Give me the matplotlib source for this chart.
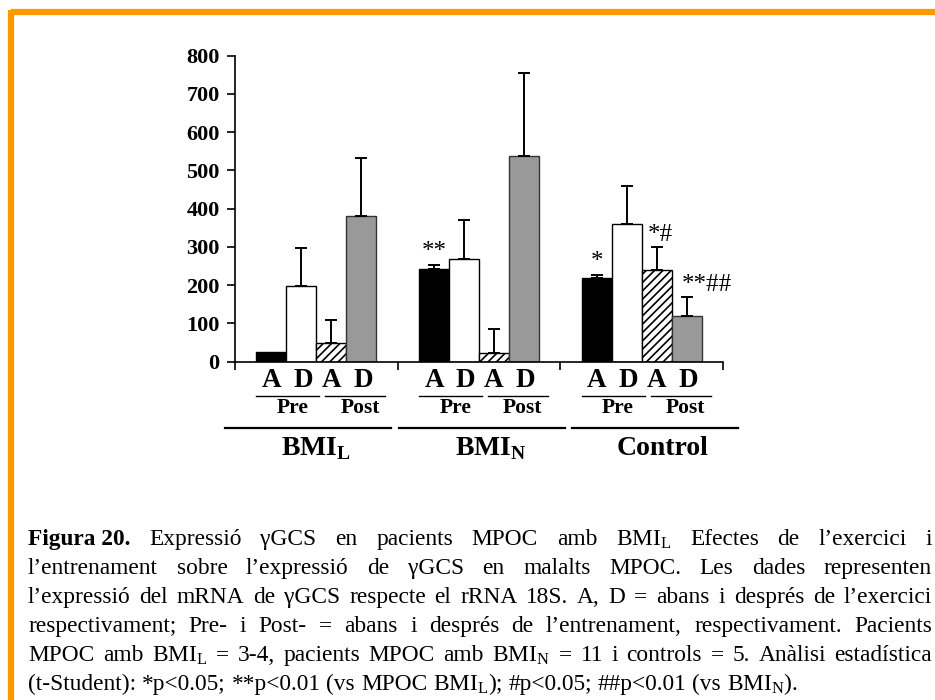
import numpy as np
import matplotlib
matplotlib.use("Agg")
import matplotlib.pyplot as plt
from matplotlib.lines import Line2D

plt.rcParams["font.family"] = ["Liberation Serif", "DejaVu Serif"]
plt.rcParams["mathtext.fontset"] = "custom"
plt.rcParams["mathtext.rm"] = "Liberation Serif"
plt.rcParams["mathtext.bf"] = "Liberation Serif:bold"
plt.rcParams["hatch.linewidth"] = 1.2

# data
groups = ["BMI$_\\mathbf{L}$", "BMI$_\\mathbf{N}$", "Control"]
bar_labels = ["A", "D", "A", "D"]
phase_labels = ["Pre", "Post"]
means = [
    [25, 198, 48, 382],
    [242, 269, 24, 539],
    [218, 359, 241, 120],
]
errors = [
    [0, 98, 61, 151],
    [11, 101, 61, 215],
    [9, 101, 58, 48],
]
marks = {(1, 0): "**", (2, 0): "*", (2, 2): "*#", (2, 3): "**##"}
yticks = [0, 100, 200, 300, 400, 500, 600, 700, 800]

W, H = 935, 700
fig = plt.figure(figsize=(W / 100, H / 100), dpi=100)

def fx(px):
    return px / W

def fy(py):
    return 1 - py / H

# orange frame (top and left edges)
fig.add_artist(Line2D([fx(11), 1], [fy(12), fy(12)], color="#FF9900", lw=4.5,
                      solid_capstyle="butt"))
fig.add_artist(Line2D([fx(11), fx(11)], [fy(9.5), 0], color="#FF9900", lw=4.5,
                      solid_capstyle="butt"))

ax = fig.add_axes([fx(235), fy(361.7), fx(723) - fx(235), (361.7 - 55.7) / H])

w = 0.184
styles = [
    dict(color="black", edgecolor="black"),
    dict(color="white", edgecolor="black"),
    dict(color="white", edgecolor="black", hatch="////"),
    dict(color="#999999", edgecolor="#333333"),
]
# label offsets (x shift, alignment) for the significance marks
mark_pos = {"**": (0, "center"), "*": (0, "center"),
            "*#": (-0.055, "left"), "**##": (-0.03, "left")}
for g in range(3):
    for k in range(4):
        x = g + 0.5 + (k - 1.5) * w
        ax.bar(x, means[g][k], width=w, linewidth=1.0, zorder=2, **styles[k])
        if errors[g][k] > 0:
            ax.errorbar(x, means[g][k], yerr=[[0], [errors[g][k]]], fmt="none",
                        ecolor="black", elinewidth=1.4, capsize=4, capthick=1.4,
                        zorder=3)
        if (g, k) in marks:
            txt = marks[(g, k)]
            top = means[g][k] + errors[g][k]
            dx, ha = mark_pos[txt]
            ax.text(x + dx, top + 4, txt, ha=ha, va="bottom", fontsize=18)

ax.set_xlim(0, 3)
ax.set_ylim(0, 800)
ax.set_yticks(yticks)
ax.set_yticklabels([str(t) for t in yticks], fontweight="bold", fontsize=16)
ax.set_xticks([0, 1, 2, 3])
ax.set_xticklabels([])
ax.tick_params(axis="both", direction="out", length=6, width=1.2, pad=5)
for s in ["top", "right"]:
    ax.spines[s].set_visible(False)
for s in ["left", "bottom"]:
    ax.spines[s].set_linewidth(1.2)

# category labels under the axis
tr = ax.get_xaxis_transform()
for g in range(3):
    cx = [g + 0.5 + (k - 1.5) * w for k in range(4)]
    for k in range(4):
        ax.text(cx[k] + 0.01 * (k % 2), -0.062, bar_labels[k], transform=tr,
                ha="center", va="center", fontsize=19.5, fontweight="bold")
    spans = [(cx[0] - 0.5 * w, cx[1] + 0.6 * w), (cx[2] - 0.2 * w, cx[3] + 0.8 * w)]
    for (a, b), lab in zip(spans, phase_labels):
        ax.plot([a, b], [-0.112, -0.112], transform=tr, color="black", lw=1.0,
                clip_on=False)
        ax.text((a + b) / 2 + 0.03, -0.152, lab, transform=tr, ha="center",
                va="center", fontsize=15.5, fontweight="bold")

line_starts = [-0.06, 1.01, 2.07]
for g, s in enumerate(line_starts):
    ax.plot([s, s + 1.02], [-0.217, -0.217], transform=tr, color="black",
            lw=1.6, clip_on=False)
    ax.text(s + 0.56, -0.285, groups[g], transform=tr, ha="center",
            va="center", fontsize=20, fontweight="bold")

# justified caption
caption = [
    ["Figura 20.", "Expressió", "γGCS", "en", "pacients", "MPOC", "amb",
     "BMI$_\\mathrm{L}$", "Efectes", "de", "l’exercici", "i"],
    ["l’entrenament", "sobre", "l’expressió", "de", "γGCS", "en", "malalts",
     "MPOC.", "Les", "dades", "representen"],
    ["l’expressió", "del", "mRNA", "de", "γGCS", "respecte", "el", "rRNA",
     "18S.", "A,", "D", "=", "abans", "i", "després", "de", "l’exercici"],
    ["respectivament;", "Pre-", "i", "Post-", "=", "abans", "i", "després", "de",
     "l’entrenament,", "respectivament.", "Pacients"],
    ["MPOC", "amb", "BMI$_\\mathrm{L}$", "=", "3-4,", "pacients", "MPOC", "amb",
     "BMI$_\\mathrm{N}$", "=", "11", "i", "controls", "=", "5.", "Anàlisi",
     "estadística"],
    ["(t-Student):", "*p<0.05;", "**p<0.01", "(vs", "MPOC", "BMI$_\\mathrm{L}$);",
     "#p<0.05;", "##p<0.01", "(vs", "BMI$_\\mathrm{N}$)."],
]
baselines = [545, 574, 603, 632, 661, 690]
left, right = 28, 932
cap_size = 16.8

line_texts = []
for i, words in enumerate(caption):
    objs = []
    for j, wd in enumerate(words):
        bold = (i == 0 and j == 0)
        t = fig.text(0, fy(baselines[i]), wd, fontsize=cap_size, va="baseline",
                     ha="left", fontweight="bold" if bold else "normal")
        objs.append(t)
    line_texts.append(objs)

fig.canvas.draw()
r = fig.canvas.get_renderer()
t2 = fig.text(0, 0, "a a", fontsize=cap_size)
t1 = fig.text(0, 0, "aa", fontsize=cap_size)
space = t2.get_window_extent(r).width - t1.get_window_extent(r).width
t1.remove()
t2.remove()

for i, objs in enumerate(line_texts):
    widths = [t.get_window_extent(r).width for t in objs]
    if i < len(line_texts) - 1:
        gap = (right - left - sum(widths)) / (len(objs) - 1)
    else:
        gap = space
    x = left
    for t, wd in zip(objs, widths):
        t.set_x(fx(x))
        x += wd + gap

fig.savefig("out.png", dpi=100)
